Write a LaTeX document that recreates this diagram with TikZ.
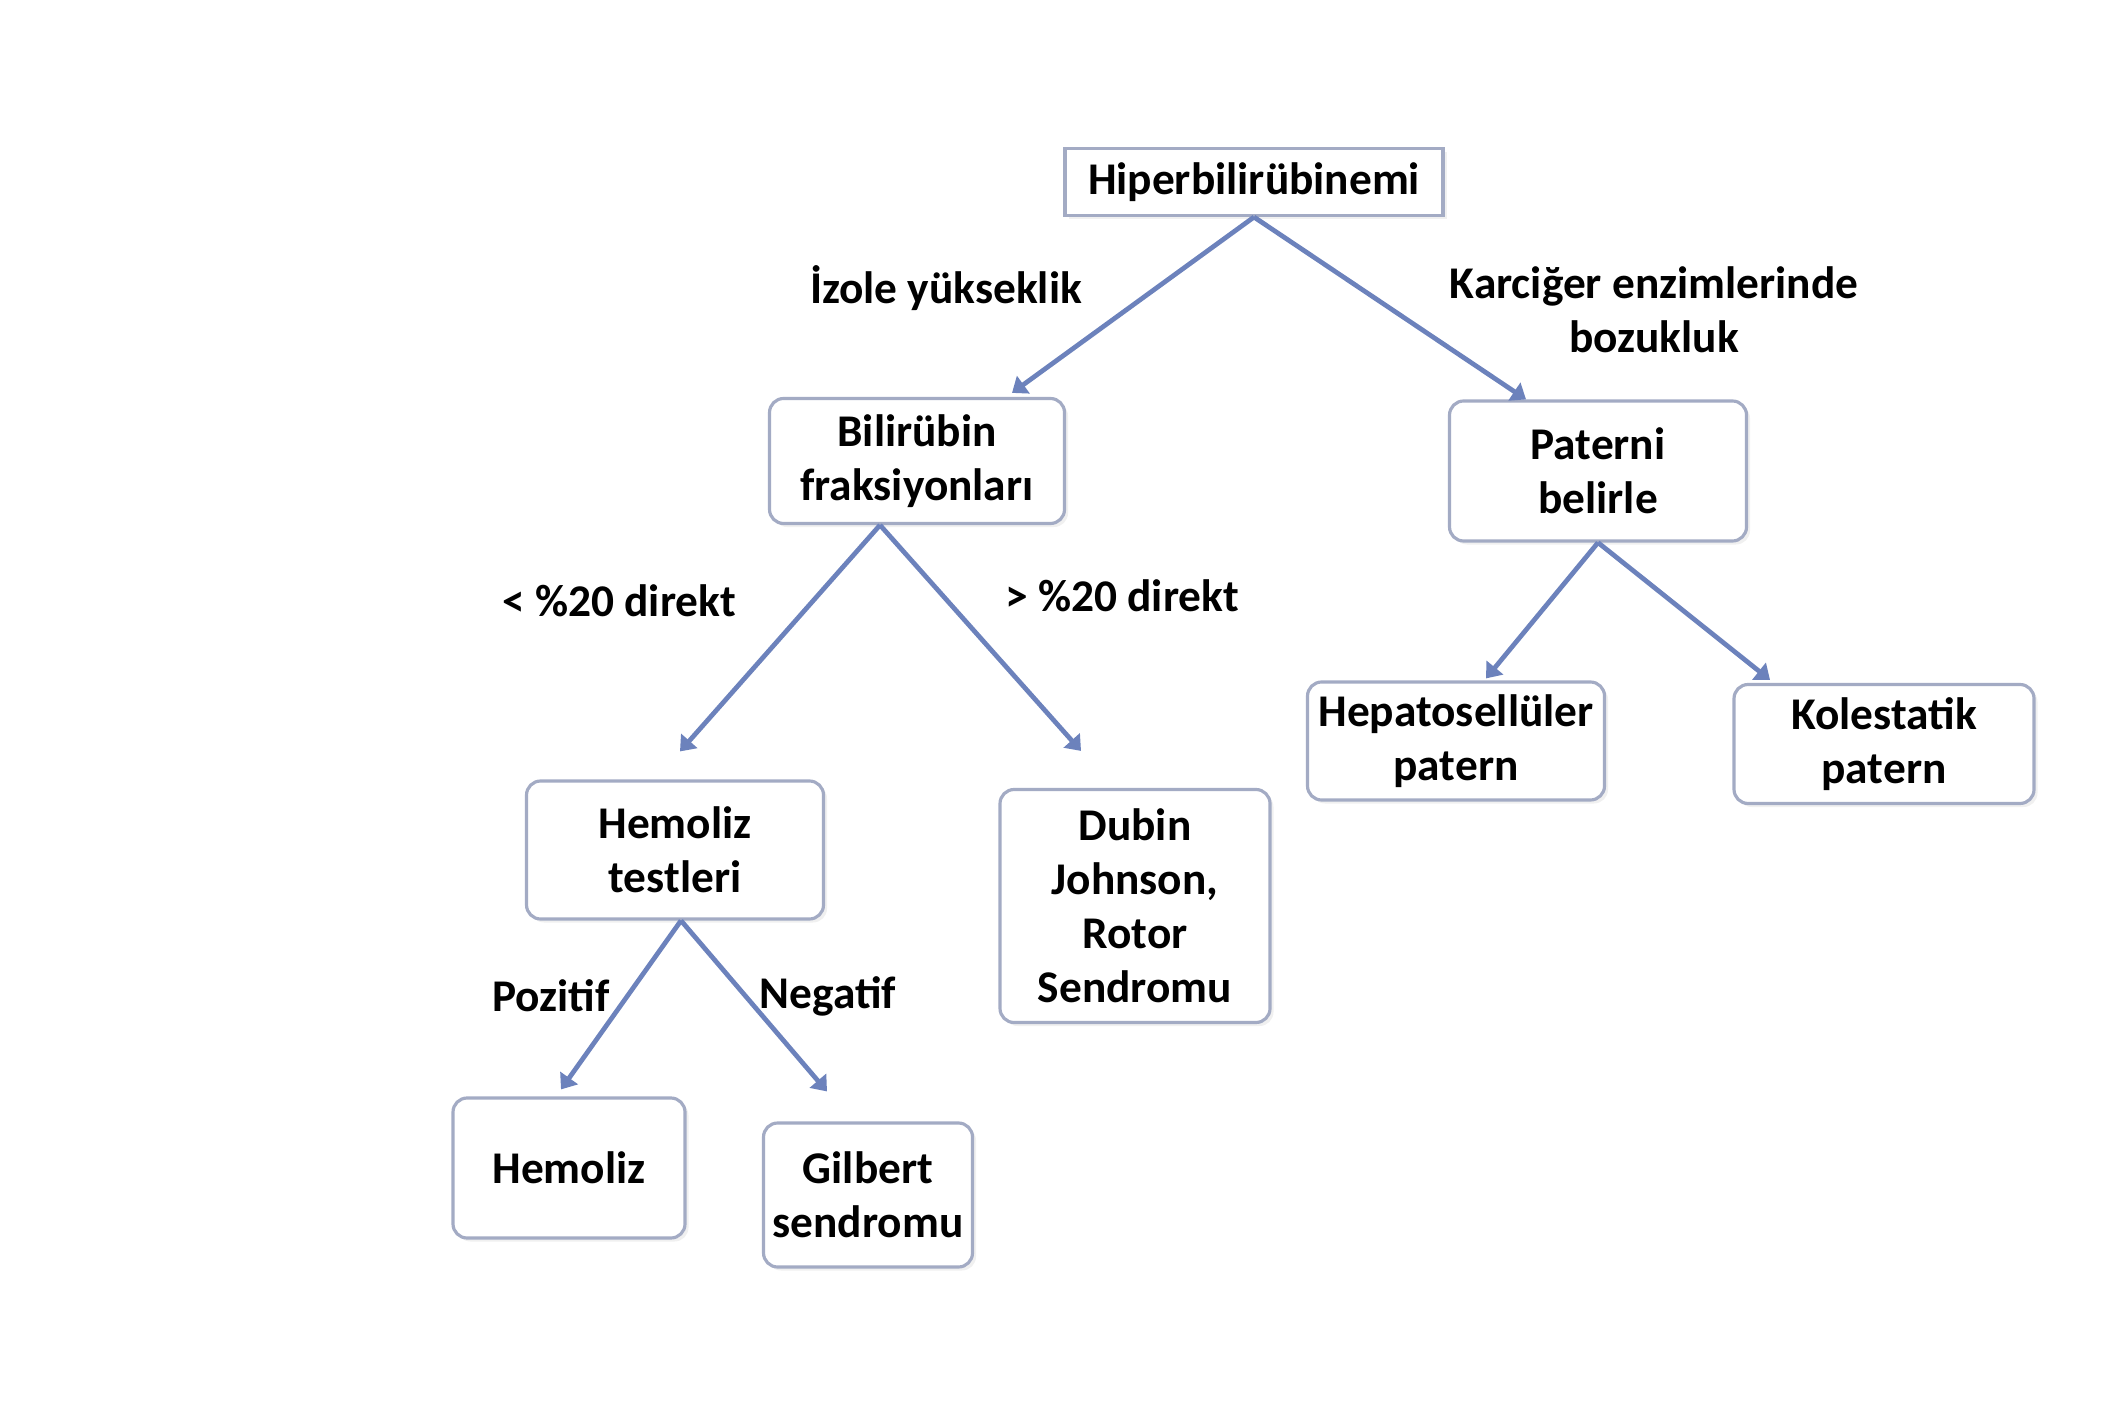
\documentclass[tikz,border=0pt]{standalone}
\usepackage{fontspec}
\setmainfont{Carlito}
\usetikzlibrary{arrows.meta,calc,shadows}

\definecolor{boxline}{HTML}{A3ABC4}
\definecolor{arrowblue}{HTML}{6C82BC}

\begin{document}
\begin{tikzpicture}
  [x=0.01cm,y=-0.01cm,
   every node/.style={font=\fontsize{12.9}{15.4}\selectfont\bfseries,align=center,inner sep=0pt},
   box/.style={draw=boxline,line width=0.9pt,fill=white,rounded corners=4pt,
     drop shadow={shadow xshift=1pt,shadow yshift=-1pt,opacity=0.12}},
   link/.style={draw=arrowblue,line width=1.35pt,-{Triangle[length=4pt,width=6pt]}}]
  \useasboundingbox (0,0) rectangle (2119,1404);

  \node[box,rounded corners=0pt,minimum width=378*0.01cm,minimum height=67*0.01cm] (hiper) at (1254,182) {Hiperbilirübinemi};
  \node[box,minimum width=295*0.01cm,minimum height=125*0.01cm] (bili) at (917,461) {Bilirübin\\fraksiyonları};
  \node[box,minimum width=297*0.01cm,minimum height=140*0.01cm] (pat) at (1598,471) {Paterni\\belirle};
  \node[box,minimum width=297*0.01cm,minimum height=118*0.01cm] (hep) at (1456,741) {Hepatosellüler\\patern};
  \node[box,minimum width=300*0.01cm,minimum height=119*0.01cm] (kol) at (1884,744) {Kolestatik\\patern};
  \node[box,minimum width=297*0.01cm,minimum height=138*0.01cm] (hemt) at (675,850) {Hemoliz\\testleri};
  \node[box,minimum width=270*0.01cm,minimum height=233*0.01cm] (dubin) at (1135,906) {Dubin\\Johnson,\\Rotor\\Sendromu};
  \node[box,minimum width=232*0.01cm,minimum height=140*0.01cm] (hemo) at (569,1168) {Hemoliz};
  \node[box,minimum width=209*0.01cm,minimum height=144*0.01cm] (gil) at (868,1195) {Gilbert\\sendromu};

  % edge labels
  \node (l1) at (946,288) {İzole yükseklik};
  \node (l2) at (1654,310) {Karciğer enzimlerinde\\bozukluk};
  \node (l3) at (619,601) {< \%20 direkt};
  \node (l4) at (1122,596) {> \%20 direkt};
  \node (l5) at (551,996) {Pozitif};
  \node (l6) at (828,996) {Negatif};

  \foreach \from/\sx/\to/\ex/\ey in {hiper/0/bili/95/-4, hiper/0/pat/-72/0,
      bili/-37/hemt/5/-28, bili/-37/dubin/-54/-37,
      pat/0/hep/30/-2, pat/0/kol/-114/-3,
      hemt/6/hemo/-8/-7, hemt/6/gil/-41/-30}
    \draw[link] ($(\from.south)+(\sx,0)$) -- ($(\to.north)+(\ex,\ey)$);

\end{tikzpicture}
\end{document}
